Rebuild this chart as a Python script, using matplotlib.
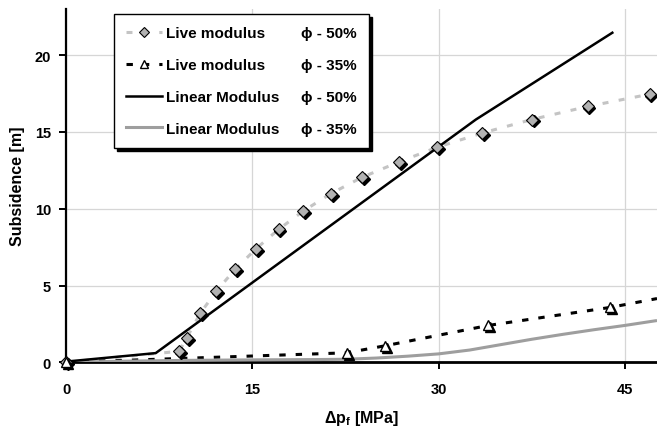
import matplotlib
matplotlib.use("Agg")
import matplotlib.pyplot as plt
from matplotlib.lines import Line2D
from matplotlib.transforms import ScaledTranslation

plt.rcParams['font.family'] = ['Liberation Sans', 'DejaVu Sans']
plt.rcParams['font.weight'] = 'bold'
plt.rcParams['lines.scale_dashes'] = False
plt.rcParams['mathtext.fontset'] = 'custom'
plt.rcParams['mathtext.rm'] = 'Liberation Sans:bold'
plt.rcParams['mathtext.bf'] = 'Liberation Sans:bold'
plt.rcParams['mathtext.it'] = 'Liberation Sans:bold'

# Live modulus, porosity 50% (diamonds)
live50_x = [0, 9.1, 9.7, 10.8, 12.1, 13.6, 15.3, 17.1, 19.1, 21.3, 23.8, 26.8, 29.9, 33.5, 37.5, 42.0, 47.0]
live50_y = [0, 0.72, 1.6, 3.2, 4.65, 6.05, 7.4, 8.65, 9.85, 10.97, 12.03, 13.04, 14.0, 14.92, 15.8, 16.65, 17.45]

# Live modulus, porosity 35% (triangles); last point carries no marker
live35_x = [0, 22.6, 25.7, 34.0, 43.8, 47.6]
live35_y = [0, 0.62, 1.08, 2.4, 3.57, 4.15]

# Linear modulus, porosity 50%
lin50_x = [0, 7.2, 33.0, 44.0]
lin50_y = [0.05, 0.6, 15.8, 21.45]

# Linear modulus, porosity 35%
lin35_x = [0, 5, 10, 15, 20, 22.5, 25, 27.5, 30, 32.5, 35, 37.5, 40, 42.5, 45, 47.6]
lin35_y = [0, 0.08, 0.13, 0.16, 0.18, 0.2, 0.28, 0.4, 0.55, 0.8, 1.15, 1.5, 1.82, 2.12, 2.4, 2.72]

x_ticks = [0, 15, 30, 45]
y_ticks = [0, 5, 10, 15, 20]

names = ["Live modulus", "Live modulus", "Linear Modulus", "Linear Modulus"]
phis = ["\u03d5 - 50%", "\u03d5 - 35%", "\u03d5 - 50%", "\u03d5 - 35%"]

fig = plt.figure(figsize=(6.57, 4.31), dpi=100)
ax = fig.add_axes([0.101, 0.157, 0.899, 0.820])

grey_dash = "#c4c4c4"
grey_line = "#9e9e9e"
diamond_fc = "#b2b2b2"

ax.plot(lin35_x, lin35_y, color=grey_line, lw=2.2, zorder=3, solid_capstyle='butt')
ax.plot(lin50_x, lin50_y, color="black", lw=1.8, zorder=3)
ax.plot(live50_x, live50_y, color=grey_dash, lw=2.2, dashes=(4.3, 7.5), zorder=2)
ax.plot(live35_x, live35_y, color="black", lw=2.2, dashes=(4.6, 7.2), zorder=2)

# markers with a small black drop shadow
shadow = ax.transData + ScaledTranslation(1.4 / 72, -1.4 / 72, fig.dpi_scale_trans)
ax.plot(live50_x, live50_y, ls='none', marker='D', ms=5.8, mfc='black', mec='black',
        transform=shadow, zorder=4, clip_on=False)
ax.plot(live50_x, live50_y, ls='none', marker='D', ms=5.8, mfc=diamond_fc, mec='black',
        mew=0.8, zorder=5, clip_on=False)
mk = list(range(len(live35_x) - 1))
ax.plot(live35_x, live35_y, ls='none', marker='^', ms=7, mfc='black', mec='black',
        markevery=mk, transform=shadow, zorder=6, clip_on=False)
ax.plot(live35_x, live35_y, ls='none', marker='^', ms=7, mfc='white', mec='black',
        mew=1.0, markevery=mk, zorder=7, clip_on=False)

ax.set_xlim(0, 47.6)
ax.set_ylim(0, 23)
ax.set_xticks(x_ticks)
ax.set_yticks(y_ticks)
ax.grid(True, color="#d6d6d6", lw=0.9)
ax.set_axisbelow(True)
for s in ("top", "right"):
    ax.spines[s].set_visible(False)
ax.spines["left"].set_linewidth(1.6)
ax.spines["bottom"].set_linewidth(2.0)
ax.tick_params(axis='both', direction='out', length=5, width=1.4, labelsize=10.5)
ax.tick_params(axis='x', pad=9)
ax.tick_params(axis='y', pad=6)
for lab in ax.get_xticklabels() + ax.get_yticklabels():
    lab.set_fontweight('bold')

ax.set_xlabel("\u0394p$_{\\mathbf{f}}$ [MPa]", fontsize=11.5, fontweight='bold', labelpad=9)
ax.set_ylabel("Subsidence [m]", fontsize=11.5, fontweight='bold', labelpad=7)

handles = [
    Line2D([], [], color=grey_dash, lw=2.2, dashes=(4.3, 7.5), marker='D', ms=5,
           mfc=diamond_fc, mec='black', mew=0.8),
    Line2D([], [], color='black', lw=2.2, dashes=(4.6, 7.2), marker='^', ms=6,
           mfc='white', mec='black', mew=1.0),
    Line2D([], [], color='black', lw=1.8),
    Line2D([], [], color=grey_line, lw=2.2),
]
blank = [Line2D([], [], ls='none') for _ in phis]
leg = ax.legend(handles + blank, names + phis, ncol=2, loc='upper left',
                bbox_to_anchor=(0.081, 0.985), borderaxespad=0,
                handlelength=2.3, handletextpad=0.3, columnspacing=-1.2,
                labelspacing=1.16, borderpad=0.8, fancybox=False, framealpha=1,
                edgecolor='black', shadow={'color': 'black', 'alpha': 1},
                prop={'weight': 'bold', 'size': 11})
leg.get_frame().set_linewidth(1.0)
leg.set_zorder(10)

fig.savefig("out.png", dpi=100)
